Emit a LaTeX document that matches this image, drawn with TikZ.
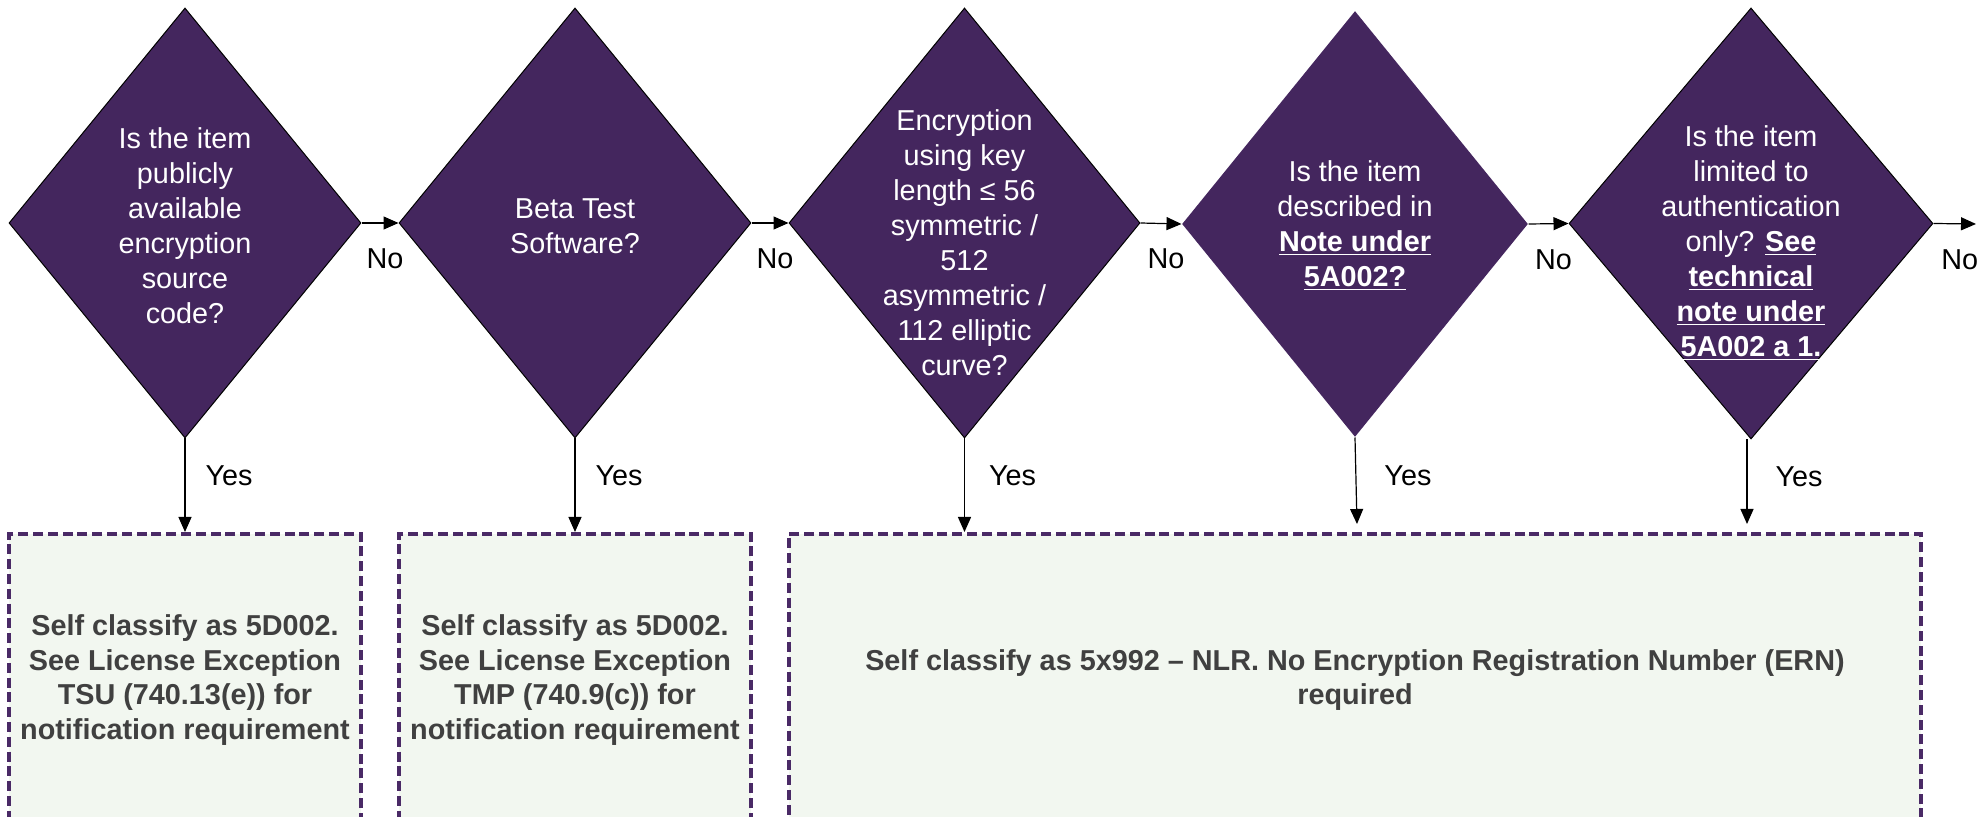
\documentclass[tikz,border=0pt]{standalone}
\usepackage{fontspec}
\setmainfont{Liberation Sans}
\usetikzlibrary{shapes.geometric,arrows.meta,positioning}
\definecolor{plum}{HTML}{44265E}
\definecolor{plumline}{HTML}{4A2A66}
\definecolor{mint}{HTML}{F2F7F0}
\definecolor{inkgray}{HTML}{404040}

\begin{document}
\begin{tikzpicture}[x=0.5pt,y=-0.5pt]
        \tikzstyle{every node}=[font=\fontsize{14.4}{17.5}\selectfont]
        \tikzstyle{decision}=[diamond,fill=plum,draw=black,line width=0.5pt,inner sep=0pt,minimum width=176pt,minimum height=215pt]
        \tikzstyle{question}=[text=white,align=center,inner sep=0pt]
        \tikzstyle{outcome}=[anchor=north,fill=mint,draw=plumline,line width=2pt,dash pattern=on 5pt off 2.4pt,minimum height=146pt,align=center,text=inkgray,font=\fontsize{14.4}{17.2}\selectfont\bfseries]
        \tikzstyle{arr}=[-{Triangle[length=7.5pt,width=6.5pt]},line width=0.6pt]
        \tikzstyle{no}=[below=12.5pt,xshift=2.5pt,inner sep=0pt]
        \tikzstyle{yes}=[right,pos=0.4,xshift=8pt,inner sep=2pt]
        \useasboundingbox (0,0) rectangle (1982,817);
        % decisions
        \node[decision] (d1) at (185,223) {};
        \node[decision] (d2) at (575,223) {};
        \node[decision,minimum width=175.5pt] (d3) at (964.5,223) {};
        \node[decision,draw=none,minimum width=173pt,minimum height=213pt] (d4) at (1355,224) {};
        \node[decision,minimum width=182pt,minimum height=215.5pt] (d5) at (1751,223.5) {};
        \node[question] (q1) at ([yshift=-1.5pt]d1.center) {Is the item\\publicly\\available\\encryption\\source\\code?};
        \node[question] (q2) at ([yshift=-1.5pt]d2.center) {Beta Test\\Software?};
        \node[question] (q3) at ([yshift=-10pt]d3.center) {Encryption\\using key\\length ≤ 56\\symmetric /\\512\\asymmetric /\\112 elliptic\\curve?};
        \node[question] (q4) at ([yshift=-1pt]d4.center) {Is the item\\described in\\\underline{\textbf{Note under}}\\\underline{\textbf{5A002?}}};
        \node[question] (q5) at ([yshift=-10pt]d5.center) {Is the item\\limited to\\authentication\\only? \underline{\textbf{See}}\\\underline{\textbf{technical}}\\\underline{\textbf{note under}}\\\underline{\textbf{5A002 a 1.}}};
        % outcomes
        \node[outcome,minimum width=176pt] (b1) at (185,532) {Self classify as 5D002.\\See License Exception\\TSU (740.13(e)) for\\notification requirement};
        \node[outcome,minimum width=176pt] (b2) at (575,532) {Self classify as 5D002.\\See License Exception\\TMP (740.9(c)) for\\notification requirement};
        \node[outcome,minimum width=566pt] (b3) at (1355,532) {Self classify as 5x992 – NLR. No Encryption Registration Number (ERN)\\required};
        % no branch
        \coordinate (exit) at (1976,224);
        \draw[arr] (d1.east) -- node[no] {No} (d2.west);
        \draw[arr] (d2.east) -- node[no] {No} (d3.west);
        \draw[arr] (d3.east) -- node[no] {No} (d4.west);
        \draw[arr] (d4.east) -- node[no] {No} (d5.west);
        \draw[arr] (d5.east) -- node[no] {No} (exit);
        % yes branch
        \coordinate (t4) at (1357,524);
        \coordinate (t5) at (1747,524);
        \draw[arr] (d1.south) -- node[yes] {Yes} (b1.north);
        \draw[arr] (d2.south) -- node[yes] {Yes} (b2.north);
        \draw[arr] (d3.south) -- node[yes,xshift=2pt] {Yes} (d3.south |- b3.north);
        \draw[arr] (d4.south) -- node[yes,pos=0.44,xshift=4pt] {Yes} (t4);
        \draw[arr] ([xshift=-2pt]d5.south) -- node[yes,pos=0.44,xshift=4pt] {Yes} (t5);
    \end{tikzpicture}
\end{document}
